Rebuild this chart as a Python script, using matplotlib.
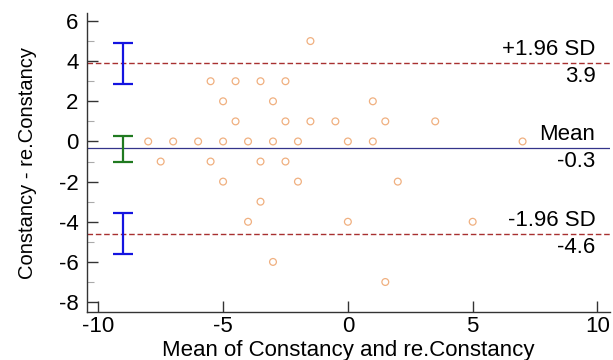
import numpy as np
import matplotlib
matplotlib.use("Agg")
import matplotlib.pyplot as plt
from matplotlib.ticker import MultipleLocator

plt.rcParams['font.family'] = ['Liberation Sans', 'DejaVu Sans']
plt.rcParams['axes.unicode_minus'] = False

# mean of the two measurements (x) and their difference (y)
mean_vals = [-1.5,
             -5.5, -4.5, -3.5, -2.5,
             -5, -3, 1,
             -4.5, -2.5, -1.5, -0.5, 1.5, 3.5,
             -8, -7, -6, -5, -4, -3, -2, 0, 1, 7,
             -7.5, -5.5, -3.5, -2.5,
             -5, -2, 2,
             -3.5,
             -4, 0, 5,
             -3,
             1.5]
diff_vals = [5,
             3, 3, 3, 3,
             2, 2, 2,
             1, 1, 1, 1, 1, 1,
             0, 0, 0, 0, 0, 0, 0, 0, 0, 0,
             -1, -1, -1, -1,
             -2, -2, -2,
             -3,
             -4, -4, -4,
             -6,
             -7]

mean_diff = -0.35
upper_loa = 3.9
lower_loa = -4.6
line_labels = ["+1.96 SD", "Mean", "-1.96 SD"]
line_values = ["3.9", "-0.3", "-4.6"]

# confidence intervals drawn at the left edge
ci_x = -9
ci_upper = (2.85, 4.9)
ci_mean = (-1.0, 0.25)
ci_lower = (-5.6, -3.55)

fig = plt.figure(figsize=(6.13, 3.6), dpi=100)
ax = fig.add_axes([0.142, 0.133, 0.853, 0.831])

ax.scatter(mean_vals, diff_vals, s=24, facecolors='none', edgecolors='#f0b080',
           linewidths=0.9, zorder=3)

ax.axhline(upper_loa, color='#a83030', ls=(0, (4, 2)), lw=1.0)
ax.axhline(lower_loa, color='#a83030', ls=(0, (4, 2)), lw=1.0)
ax.axhline(mean_diff, color='#34348a', lw=0.9)

for (lo, hi), c in [(ci_upper, '#1414e0'), (ci_mean, '#207a20'), (ci_lower, '#1414e0')]:
    ax.errorbar([ci_x], [(lo + hi) / 2], yerr=[[(hi - lo) / 2], [(hi - lo) / 2]],
                fmt='none', ecolor=c, elinewidth=1.6, capsize=7, capthick=1.6)

for yv, lab, val in zip([upper_loa, mean_diff, lower_loa], line_labels, line_values):
    ax.text(9.92, yv + 0.15, lab, ha='right', va='bottom', fontsize=16)
    ax.text(9.92, yv - 0.15, val, ha='right', va='top', fontsize=16)

ax.set_xlim(-10.45, 10.5)
ax.set_ylim(-8.5, 6.4)
ax.xaxis.set_major_locator(MultipleLocator(5))
ax.yaxis.set_major_locator(MultipleLocator(2))
ax.yaxis.set_minor_locator(MultipleLocator(1))
ax.tick_params(axis='both', which='major', direction='in', length=8, width=1.0,
               color='#333333', labelsize=16)
ax.tick_params(axis='y', which='minor', direction='in', length=5, width=0.8, color='#aaaaaa')
ax.tick_params(axis='x', pad=3)
ax.tick_params(axis='y', pad=6)

for s in ['top', 'right']:
    ax.spines[s].set_visible(False)
for s in ['left', 'bottom']:
    ax.spines[s].set_color('#333333')
    ax.spines[s].set_linewidth(1.0)

ax.set_xlabel("Mean of Constancy and re.Constancy", fontsize=16, labelpad=2)
ax.set_ylabel("Constancy - re.Constancy", fontsize=14.5, labelpad=16)

fig.savefig("out.png", dpi=100)
